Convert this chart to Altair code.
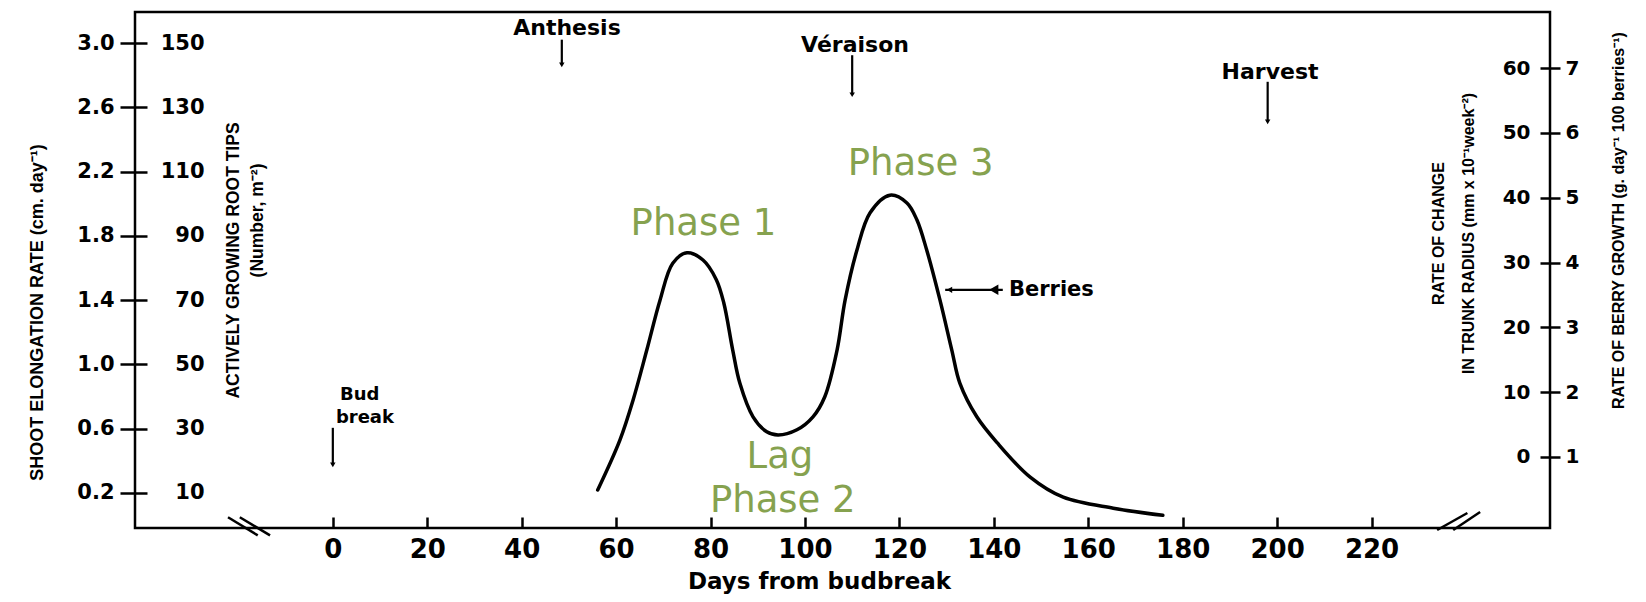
import altair as alt
import pandas as pd

# ---------------- data ----------------
# Berry growth-rate curve (x: days from budbreak, y: g day-1 100 berries-1)
curve_day = [56.1, 60.8, 63.6, 66.5, 69.3, 72.0, 75.0, 78.4, 81.2, 82.8,
             84.7, 86.2, 89.0, 91.9, 94.3, 98.3, 101.7, 104.2, 106.8, 108.5,
             111.0, 113.8, 118.0, 121.6, 123.7, 125.8, 128.6, 131.1, 132.8,
             136.4, 140.7, 147.7, 154.7, 165.3, 175.8]
curve_val = [0.49, 1.26, 1.88, 2.65, 3.42, 3.99, 4.15, 4.04, 3.74, 3.38,
             2.65, 2.14, 1.62, 1.39, 1.34, 1.42, 1.62, 1.93, 2.65, 3.42,
             4.19, 4.77, 5.04, 4.92, 4.66, 4.19, 3.42, 2.65, 2.14,
             1.62, 1.22, 0.69, 0.38, 0.21, 0.10]

# axis tick values
x_ticks = [0, 20, 40, 60, 80, 100, 120, 140, 160, 180, 200, 220]
shoot_ticks = [0.2, 0.6, 1.0, 1.4, 1.8, 2.2, 2.6, 3.0]
root_ticks = [10, 30, 50, 70, 90, 110, 130, 150]
trunk_ticks = [0, 10, 20, 30, 40, 50, 60]
berry_ticks = [1, 2, 3, 4, 5, 6, 7]

X_DOM = [-41.9, 257.8]
SHOOT_DOM = [-0.018, 3.193]
ROOT_DOM = [-0.9, 159.65]
TRUNK_DOM = [-10.96, 68.67]
BERRY_DOM = [-0.096, 7.867]

# phenological events
event_names = ["Anthesis", "Véraison", "Harvest"]
event_day = [48.5, 110.0, 198.0]
event_label_day = [49.6, 110.6, 198.5]
event_label_val = [7.62, 7.36, 6.94]
event_arrow_top = [7.44, 7.20, 6.79]
event_arrow_bot = [7.05, 6.59, 6.17]

bud_lines = ["Bud", "break"]
bud_label_day = [5.7, 6.8]
bud_label_val = [1.95, 1.60]
bud_arrow_day = [0.0]
bud_arrow_top = [1.45]
bud_arrow_bot = [0.88]

# second line of the root-tip axis title (sits higher than the first line)
root_unit_text = ["(Number, m⁻²)"]
root_unit_day = [-15.9]
root_unit_val = [4.65]

# growth phase labels
phase_text = ["Phase 1", "Phase 3", "Lag", "Phase 2"]
phase_day = [78.5, 124.5, 94.7, 95.3]
phase_val = [4.43, 5.35, 0.83, 0.15]

# "Berries" pointer
berries_from = [141.9]
berries_to = [129.7]
berries_val = [3.58]
berries_head_day = [130.6]
berries_feather_day = [140.0]
berries_text_day = [143.2]

# axis-break marks (two slashes at each end of the day axis)
brk_d1 = [-22.2, -19.7, 233.9, 237.3]
brk_d2 = [-15.9, -13.3, 240.3, 243.0]
brk_v1 = [0.07, 0.07, -0.127, -0.127]
brk_v2 = [-0.21, -0.21, 0.136, 0.151]

W, H = 1415, 516
GREEN = "#86A24F"
BOLD_FONT = "DejaVu Sans"
TITLE_FONT = "Liberation Sans"

# ---------------- scales helpers ----------------
xs = alt.Scale(domain=X_DOM, nice=False, zero=False)
bs = alt.Scale(domain=BERRY_DOM, nice=False, zero=False)


def X(field, axis=None):
    return alt.X(f"{field}:Q", scale=xs, axis=axis)


def YB(field):
    return alt.Y(f"{field}:Q", scale=bs, axis=None)


# ---------------- axis layers ----------------
shoot_df = pd.DataFrame({"d": [0] * len(shoot_ticks), "v": shoot_ticks})
L_shoot = alt.Chart(shoot_df).mark_point(opacity=0).encode(
    x=X("d"),
    y=alt.Y("v:Q", scale=alt.Scale(domain=SHOOT_DOM, nice=False, zero=False),
            axis=alt.Axis(orient="left", values=shoot_ticks, format=".1f",
                          tickSize=15, labelPadding=6, labelFontSize=21,
                          title="SHOOT ELONGATION RATE (cm. day⁻¹)",
                          titleX=-98, titleY=300, titleAngle=270,
                          titleBaseline="middle", titleAlign="center",
                          titleFontSize=18)))

root_df = pd.DataFrame({"d": [0] * len(root_ticks), "v": root_ticks})
L_root = alt.Chart(root_df).mark_point(opacity=0).encode(
    x=X("d"),
    y=alt.Y("v:Q", scale=alt.Scale(domain=ROOT_DOM, nice=False, zero=False),
            axis=alt.Axis(orient="right", offset=-W, values=root_ticks, format="d",
                          tickSize=12, labelPadding=57, labelAlign="right",
                          labelFontSize=21,
                          title="ACTIVELY GROWING ROOT TIPS",
                          titleX=98, titleY=248, titleAngle=270,
                          titleBaseline="middle", titleAlign="center",
                          titleFontSize=17.5)))

trunk_df = pd.DataFrame({"d": [0] * len(trunk_ticks), "v": trunk_ticks})
L_trunk = alt.Chart(trunk_df).mark_point(opacity=0).encode(
    x=X("d"),
    y=alt.Y("v:Q", scale=alt.Scale(domain=TRUNK_DOM, nice=False, zero=False),
            axis=alt.Axis(orient="left", offset=-W, values=trunk_ticks, format="d",
                          tickSize=10, labelPadding=10, labelFontSize=20,
                          title=["RATE OF CHANGE", "IN TRUNK RADIUS (mm x 10⁻¹week⁻²)"],
                          titleX=-112, titleY=221, titleAngle=270,
                          titleBaseline="middle", titleAlign="center",
                          titleLineHeight=30, titleFontSize=16)))

berry_df = pd.DataFrame({"d": [0] * len(berry_ticks), "v": berry_ticks})
L_berry = alt.Chart(berry_df).mark_point(opacity=0).encode(
    x=X("d"),
    y=alt.Y("v:Q", scale=bs,
            axis=alt.Axis(orient="right", values=berry_ticks, format="d",
                          tickSize=10, labelPadding=5, labelFontSize=20,
                          title="RATE OF BERRY GROWTH (g. day⁻¹ 100 berries⁻¹)",
                          titleX=68, titleY=208, titleAngle=270,
                          titleBaseline="middle", titleAlign="center",
                          titleFontSize=16)))

xt_df = pd.DataFrame({"d": x_ticks, "v": [1] * len(x_ticks)})
L_xticks = alt.Chart(xt_df).mark_point(opacity=0).encode(
    x=alt.X("d:Q", scale=xs,
            axis=alt.Axis(orient="top", offset=-H, values=x_ticks, labels=False,
                          tickSize=11, title=None)),
    y=YB("v"))

# ---------------- curve ----------------
curve_df = pd.DataFrame({"d": curve_day, "v": curve_val})
L_curve = alt.Chart(curve_df).mark_line(
    color="black", strokeWidth=3.5, interpolate="catmull-rom", strokeCap="round"
).encode(
    x=alt.X("d:Q", scale=xs,
            axis=alt.Axis(orient="bottom", values=x_ticks, ticks=False, tickSize=0,
                          labelPadding=8, labelFontSize=26, labelFlush=False,
                          title="Days from budbreak", titleFontSize=23,
                          titleFont=BOLD_FONT, titleX=684, titleY=60,
                          titleBaseline="alphabetic", titleAlign="center")),
    y=YB("v"))

# ---------------- annotations ----------------
ev_df = pd.DataFrame({"name": event_names, "d": event_day, "ld": event_label_day,
                      "lv": event_label_val, "top": event_arrow_top,
                      "bot": event_arrow_bot})
L_ev_rule = alt.Chart(ev_df).mark_rule(color="black", strokeWidth=2.2).encode(
    x=X("d"), y=YB("top"), y2="bot:Q")
L_ev_head = alt.Chart(ev_df).mark_point(
    shape="triangle-down", filled=True, color="black", size=30, opacity=1
).encode(x=X("d"), y=YB("bot"))
L_ev_text = alt.Chart(ev_df).mark_text(
    font=BOLD_FONT, fontWeight="bold", fontSize=22, color="black",
    align="center", baseline="middle"
).encode(x=X("ld"), y=YB("lv"), text="name:N")

bud_df = pd.DataFrame({"t": bud_lines, "d": bud_label_day, "v": bud_label_val})
L_bud_text = alt.Chart(bud_df).mark_text(
    font=BOLD_FONT, fontWeight="bold", fontSize=18, color="black",
    align="center", baseline="middle"
).encode(x=X("d"), y=YB("v"), text="t:N")
bud_arrow_df = pd.DataFrame({"d": bud_arrow_day, "top": bud_arrow_top,
                             "bot": bud_arrow_bot})
L_bud_rule = alt.Chart(bud_arrow_df).mark_rule(color="black", strokeWidth=2.2).encode(
    x=X("d"), y=YB("top"), y2="bot:Q")
L_bud_head = alt.Chart(bud_arrow_df).mark_point(
    shape="triangle-down", filled=True, color="black", size=30, opacity=1
).encode(x=X("d"), y=YB("bot"))

ru_df = pd.DataFrame({"t": root_unit_text, "d": root_unit_day, "v": root_unit_val})
L_root_unit = alt.Chart(ru_df).mark_text(
    font=TITLE_FONT, fontWeight="bold", fontSize=17.5, color="black",
    align="center", baseline="middle", angle=270
).encode(x=X("d"), y=YB("v"), text="t:N")

ph_df = pd.DataFrame({"t": phase_text, "d": phase_day, "v": phase_val})
L_phase = alt.Chart(ph_df).mark_text(
    font="DejaVu Sans", fontSize=37, color=GREEN, align="center",
    baseline="alphabetic"
).encode(x=X("d"), y=YB("v"), text="t:N")

ber_df = pd.DataFrame({"d1": berries_from, "d2": berries_to, "v": berries_val,
                       "hd": berries_head_day, "fd": berries_feather_day,
                       "td": berries_text_day, "t": ["Berries"]})
L_ber_rule = alt.Chart(ber_df).mark_rule(color="black", strokeWidth=2.2).encode(
    x=X("d1"), x2="d2:Q", y=YB("v"))
L_ber_head = alt.Chart(ber_df).mark_point(
    shape="triangle-left", filled=True, color="black", size=40, opacity=1
).encode(x=X("hd"), y=YB("v"))
L_ber_feather = alt.Chart(ber_df).mark_point(
    shape="triangle-left", filled=True, color="black", size=110, opacity=1
).encode(x=X("fd"), y=YB("v"))
L_ber_text = alt.Chart(ber_df).mark_text(
    font=BOLD_FONT, fontWeight="bold", fontSize=21, color="black",
    align="left", baseline="middle"
).encode(x=X("td"), y=YB("v"), text="t:N")

brk_df = pd.DataFrame({"d1": brk_d1, "d2": brk_d2, "v1": brk_v1, "v2": brk_v2})
L_breaks = alt.Chart(brk_df).mark_rule(color="black", strokeWidth=2.5).encode(
    x=X("d1"), x2="d2:Q", y=YB("v1"), y2="v2:Q")

chart = alt.layer(
    L_shoot, L_root, L_trunk, L_berry, L_xticks, L_curve,
    L_ev_rule, L_ev_head, L_ev_text, L_bud_text, L_bud_rule, L_bud_head,
    L_root_unit, L_phase, L_ber_rule, L_ber_head, L_ber_feather, L_ber_text,
    L_breaks
).resolve_scale(
    x="independent", y="independent"
).properties(
    width=W, height=H,
    padding={"left": 127, "top": 4, "right": 88, "bottom": 66},
    autosize=alt.AutoSizeParams(type="none"),
    background="white",
).configure_view(
    stroke="black", strokeWidth=2.5
).configure_axis(
    labelFont=BOLD_FONT, labelFontWeight="bold", labelColor="black",
    titleFont=TITLE_FONT, titleFontWeight="bold", titleColor="black",
    tickColor="black", tickWidth=2.5, grid=False, domain=False,
)

chart.save("out.html", embed_options={"renderer": "svg", "actions": False})
